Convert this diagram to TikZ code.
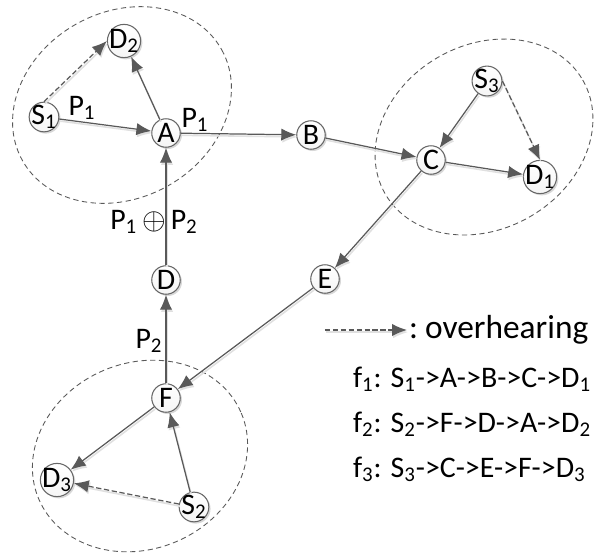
\documentclass[tikz,border=0pt]{standalone}
\usepackage{fontspec}
\setmainfont{Carlito}
\usetikzlibrary{arrows.meta,shadows}
\newcommand{\lo}[1]{\textsubscript{#1}}

\begin{document}
\begin{tikzpicture}[x=0.02cm, y=-0.02cm, >={Latex[length=8.5pt,width=7pt]},
  nd/.style={circle, draw=black!60, line width=0.6pt, inner sep=-1pt, minimum size=0.57cm,
    top color=white, bottom color=black!4,
    drop shadow={shadow xshift=1pt, shadow yshift=-1pt, fill=black!30},
    font=\fontsize{17}{19}\selectfont},
  lnk/.style={->, draw=black!65, line width=0.7pt,
    preaction={draw=black!12, line width=0.9pt, transform canvas={shift={(0.6pt,-1.2pt)}}}},
  ovh/.style={lnk, dash pattern=on 3pt off 1.5pt},
  zone/.style={draw=black!65, line width=0.5pt, dash pattern=on 3pt off 2pt},
  lbl/.style={font=\fontsize{17}{19}\selectfont, inner sep=1pt}]
\useasboundingbox (0,0) rectangle (600,556);
% the three overhearing zones
\draw[zone, shift={(122,105)}, rotate=29] (0,0) ellipse [x radius=114, y radius=93];
\draw[zone, shift={(484,137)}, rotate=30] (0,0) ellipse [x radius=114, y radius=92];
\draw[zone, shift={(140,456)}, rotate=23] (0,0) ellipse [x radius=110, y radius=93];
% nodes
\node[nd] (S1) at (44,117)  {S\lo1};
\node[nd] (D2) at (124,41)  {D\lo2};
\node[nd] (A)  at (166,133) {A};
\node[nd] (B)  at (311,135) {B};
\node[nd] (C)  at (431,160) {C};
\node[nd] (S3) at (487,81)  {S\lo3};
\node[nd] (D1) at (540,177) {D\lo1};
\node[nd] (D)  at (166,280) {D};
\node[nd] (E)  at (325,279) {E};
\node[nd] (F)  at (166,398) {F};
\node[nd] (D3) at (57,480)  {D\lo3};
\node[nd] (S2) at (194,507) {S\lo2};
% flows
\draw[lnk] (S1) -- (A);
\draw[lnk] (A) -- (D2);
\draw[lnk] (A) -- (B);
\draw[lnk] (B) -- (C);
\draw[lnk] (C) -- (D1);
\draw[lnk] (S3) -- (C);
\draw[lnk] (C) -- (E);
\draw[lnk] (E) -- (F);
\draw[lnk] (F) -- (D3);
\draw[lnk] (S2) -- (F);
\draw[lnk] (F) -- (D);
\draw[lnk] (D) -- (A);
\draw[ovh] (S1.north) -- (D2.west);
\draw[ovh] (S3.east) -- (D1.north);
\draw[ovh] (S2) -- (D3);
% packet labels
\node[lbl] (p1a) at (82,108)  {P\lo1};
\node[lbl] (p1b) at (195,120) {P\lo1};
\node[lbl] (p12) at (154,222) {P\lo1\,$\oplus$\,P\lo2};
\node[lbl] (p2)  at (149,341) {P\lo2};
% legend
\coordinate (l0) at (325,330);
\coordinate (l1) at (407,330);
\draw[ovh] (l0) -- (l1);
\node[lbl, anchor=west, font=\fontsize{19}{21}\selectfont] (ovt) at (l1) {:\hspace{4pt}overhearing};
\node[lbl, anchor=base west, font=\fontsize{17}{19}\selectfont] (f1) at (351,387) {f\lo1: S\lo1->A->B->C->D\lo1};
\node[lbl, anchor=base west, font=\fontsize{17}{19}\selectfont] (f2) at (351,432) {f\lo2: S\lo2->F->D->A->D\lo2};
\node[lbl, anchor=base west, font=\fontsize{17}{19}\selectfont] (f3) at (351,477) {f\lo3: S\lo3->C->E->F->D\lo3};
\end{tikzpicture}
\end{document}
